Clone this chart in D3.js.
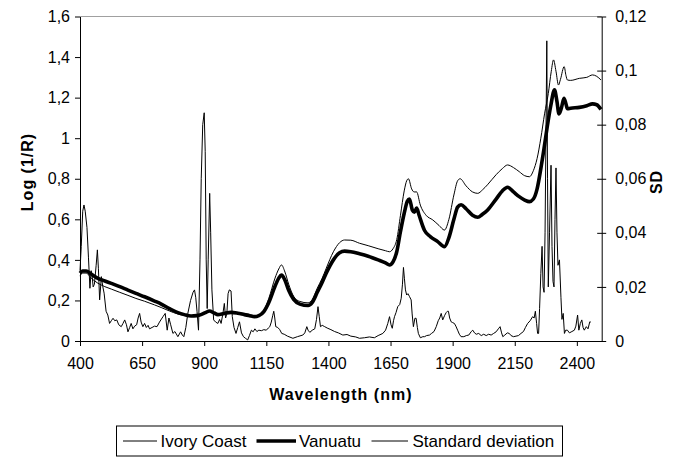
<!DOCTYPE html>
<html><head><meta charset="utf-8">
<script src="https://cdn.jsdelivr.net/npm/d3@7"></script>
<style>
body{margin:0;background:#fff;}
text{font-family:"Liberation Sans",Arial,sans-serif;fill:#000;}
</style></head>
<body><svg id="c" width="675" height="457"></svg>
<script>
// ---- data ----
const xTicks = [400,650,900,1150,1400,1650,1900,2150,2400];
const xTickLabels = ["400","650","900","1150","1400","1650","1900","2150","2400"];
const yTicks = [0,0.2,0.4,0.6,0.8,1,1.2,1.4,1.6];
const yTickLabels = ["0","0,2","0,4","0,6","0,8","1","1,2","1,4","1,6"];
const y2Ticks = [0,0.02,0.04,0.06,0.08,0.1,0.12];
const y2TickLabels = ["0","0,02","0,04","0,06","0,08","0,1","0,12"];
const seriesNames = ["Ivory Coast","Vanuatu","Standard deviation"];

const vanuatuWl = [400,410,425,445,472,500,526,560,593,625,660,700,727,760,794,820,847,870,887,905,921,940,955,980,1008,1035,1062,1083,1102,1120,1140,1160,1185,1200,1211,1225,1240,1260,1285,1318,1335,1355,1375,1391,1420,1445,1465,1490,1525,1560,1600,1630,1646,1660,1675,1690,1705,1718,1726,1738,1746,1755,1765,1787,1810,1840,1867,1885,1905,1920,1934,1954,1980,2001,2020,2040,2075,2100,2121,2145,2168,2190,2209,2225,2240,2255,2268,2280,2295,2310,2320,2328,2338,2348,2356,2362,2375,2410,2440,2463,2480,2497];
const vanuatuVal = [0.335,0.345,0.345,0.33,0.309,0.296,0.284,0.268,0.251,0.235,0.218,0.197,0.182,0.16,0.14,0.13,0.123,0.125,0.13,0.14,0.148,0.138,0.13,0.136,0.141,0.137,0.13,0.125,0.12,0.125,0.145,0.19,0.27,0.31,0.325,0.3,0.25,0.205,0.182,0.175,0.19,0.24,0.29,0.334,0.4,0.435,0.443,0.44,0.43,0.418,0.4,0.385,0.375,0.39,0.44,0.54,0.63,0.69,0.7,0.645,0.635,0.655,0.62,0.545,0.515,0.49,0.465,0.51,0.6,0.66,0.672,0.652,0.62,0.61,0.625,0.645,0.7,0.74,0.758,0.735,0.712,0.695,0.687,0.7,0.75,0.85,0.95,1.05,1.16,1.238,1.18,1.12,1.15,1.197,1.17,1.145,1.148,1.152,1.16,1.169,1.165,1.142];

const ivoryWl = [400,410,425,445,472,500,526,560,593,625,660,700,727,760,794,820,847,870,887,905,921,940,955,980,1008,1035,1062,1083,1102,1120,1140,1160,1185,1200,1211,1225,1240,1260,1285,1318,1335,1355,1375,1391,1420,1445,1465,1490,1525,1560,1600,1630,1646,1660,1675,1690,1705,1715,1722,1735,1745,1755,1770,1793,1820,1845,1867,1885,1905,1920,1930,1954,1980,2001,2020,2040,2075,2100,2121,2145,2168,2190,2209,2225,2240,2255,2270,2285,2297,2306,2316,2326,2334,2349,2356,2362,2375,2410,2440,2463,2480,2497];
const ivoryVal = [0.32,0.335,0.335,0.31,0.285,0.268,0.256,0.24,0.225,0.21,0.196,0.178,0.165,0.148,0.133,0.126,0.122,0.123,0.128,0.14,0.15,0.138,0.13,0.136,0.142,0.14,0.135,0.13,0.122,0.128,0.15,0.21,0.31,0.355,0.375,0.34,0.28,0.22,0.195,0.188,0.205,0.26,0.31,0.358,0.44,0.485,0.498,0.497,0.482,0.47,0.455,0.445,0.44,0.455,0.5,0.62,0.74,0.79,0.8,0.75,0.735,0.735,0.67,0.62,0.597,0.57,0.547,0.6,0.72,0.79,0.8,0.765,0.735,0.728,0.745,0.77,0.82,0.85,0.868,0.855,0.835,0.815,0.81,0.84,0.9,1.0,1.12,1.22,1.33,1.386,1.33,1.262,1.29,1.353,1.31,1.287,1.285,1.295,1.3,1.312,1.305,1.287];

const sdWl = [400,405,411,416,421,428,434,440,445,449,453,458,465,470,474,479,486,492,497,505,512,519,526,533,540,548,556,566,573,580,587,593,600,606,613,620,628,634,640,646,653,660,667,674,680,690,700,710,720,734,743,751,758,765,774,782,794,805,812,818,826,834,845,855,861,866,871,877,883,888,894,900,904,908,912,916,922,926,931,938,946,955,962,968,975,981,986,991,996,1001,1008,1013,1020,1028,1035,1042,1050,1058,1066,1075,1082,1090,1097,1104,1112,1120,1130,1140,1150,1158,1164,1170,1176,1180,1184,1188,1196,1204,1212,1222,1235,1257,1275,1297,1305,1313,1318,1325,1335,1345,1352,1358,1363,1368,1375,1385,1395,1410,1425,1440,1458,1475,1490,1510,1525,1545,1565,1585,1600,1619,1630,1639,1646,1652,1657,1662,1666,1672,1679,1687,1693,1698,1702,1706,1710,1715,1720,1726,1733,1737,1742,1748,1753,1758,1762,1770,1780,1787,1795,1807,1815,1825,1834,1842,1848,1854,1860,1868,1874,1879,1883,1888,1894,1900,1907,1913,1920,1927,1934,1945,1955,1965,1975,1981,1988,1995,2005,2015,2025,2035,2045,2055,2065,2075,2084,2091,2097,2102,2110,2120,2128,2135,2145,2155,2165,2175,2185,2193,2202,2212,2222,2228,2233,2238,2242,2246,2250,2255,2260,2264,2268,2272,2276,2279,2282,2285,2290,2296,2300,2304,2308,2312,2316,2320,2324,2330,2336,2340,2345,2350,2355,2362,2370,2380,2390,2396,2403,2408,2414,2420,2425,2430,2438,2445,2452,2456];
const sdVal = [0.026,0.035,0.048,0.0503,0.048,0.042,0.031,0.0195,0.026,0.0238,0.02,0.021,0.028,0.0337,0.0269,0.0152,0.0238,0.02,0.0177,0.011,0.0096,0.0065,0.0075,0.0084,0.0075,0.0078,0.006,0.0053,0.0065,0.0078,0.006,0.0034,0.005,0.0065,0.0045,0.0055,0.006,0.0085,0.0102,0.007,0.0053,0.0065,0.005,0.0058,0.0045,0.005,0.0055,0.0053,0.007,0.009,0.0102,0.004,0.0085,0.006,0.0028,0.0035,0.0016,0.0034,0.0022,0.0016,0.005,0.0102,0.015,0.018,0.0189,0.016,0.011,0.004,0.03,0.06,0.08,0.0844,0.07,0.03,0.012,0.03,0.0546,0.04,0.0189,0.0078,0.007,0.0065,0.008,0.0065,0.01,0.0139,0.0085,0.01,0.0175,0.0189,0.0185,0.009,0.005,0.0028,0.005,0.0071,0.003,0.0016,0.001,0.0004,0.002,0.004,0.0034,0.0045,0.0035,0.004,0.0038,0.0042,0.004,0.0048,0.0053,0.007,0.0095,0.011,0.0085,0.0053,0.005,0.0042,0.0028,0.0025,0.0018,0.001,0.0016,0.0022,0.003,0.0053,0.004,0.0032,0.004,0.0045,0.008,0.0127,0.009,0.0053,0.0058,0.0053,0.0048,0.0042,0.0035,0.003,0.0022,0.0024,0.0018,0.0015,0.001,0.0012,0.0015,0.0012,0.002,0.0028,0.004,0.0065,0.009,0.006,0.0047,0.0075,0.009,0.0105,0.0127,0.0135,0.0158,0.021,0.0272,0.023,0.0189,0.017,0.0175,0.0165,0.0152,0.01,0.0053,0.0084,0.0084,0.005,0.0028,0.0012,0.0016,0.0016,0.002,0.0022,0.0028,0.0035,0.0053,0.0075,0.0085,0.0102,0.0078,0.0095,0.0105,0.011,0.011,0.0085,0.0071,0.0068,0.0065,0.0055,0.004,0.0025,0.0016,0.0016,0.002,0.0022,0.0035,0.004,0.003,0.0025,0.0028,0.002,0.0025,0.002,0.0025,0.0022,0.0028,0.0034,0.0045,0.0053,0.003,0.0016,0.0022,0.003,0.0028,0.002,0.0016,0.0018,0.002,0.0028,0.0035,0.005,0.0065,0.0075,0.009,0.0085,0.011,0.0065,0.0028,0.0028,0.012,0.025,0.035,0.02,0.018,0.04,0.08,0.111,0.06,0.02,0.04,0.065,0.035,0.022,0.02,0.045,0.064,0.04,0.028,0.03,0.016,0.008,0.0102,0.0028,0.004,0.004,0.003,0.0035,0.004,0.0055,0.0096,0.004,0.0065,0.0078,0.005,0.004,0.0053,0.0045,0.0071,0.007];

// ---- layout ----
const svg = d3.select("#c");
const L = 80, R = 601.7, T = 16.5, B = 341;
const x = d3.scaleLinear().domain([400,2500]).range([L,R]);
const y = d3.scaleLinear().domain([0,1.6]).range([B,T]);
const y2 = d3.scaleLinear().domain([0,0.12]).range([B,T]);

// top border (gray)
svg.append("line").attr("x1",L).attr("x2",R).attr("y1",T).attr("y2",T)
  .attr("stroke","#a0a0a0").attr("stroke-width",1);

// lines
const lineL = d3.line().x(d=>x(d[0])).y(d=>y(d[1])).curve(d3.curveMonotoneX);
const lineR = d3.line().x(d=>x(d[0])).y(d=>y2(d[1]));
const zip = (a,b)=>a.map((v,i)=>[v,b[i]]);
svg.append("path").datum(zip(sdWl,sdVal)).attr("d",lineR).attr("fill","none").attr("stroke","#000").attr("stroke-width",1).attr("stroke-linejoin","round");
svg.append("path").datum(zip(ivoryWl,ivoryVal)).attr("d",lineL).attr("fill","none").attr("stroke","#000").attr("stroke-width",1);
svg.append("path").datum(zip(vanuatuWl,vanuatuVal)).attr("d",lineL).attr("fill","none").attr("stroke","#000").attr("stroke-width",3.6).attr("stroke-linejoin","round");

// axes
const fs = "16px";
const gx = svg.append("g").attr("transform",`translate(0,${B})`)
  .call(d3.axisBottom(x).tickValues(xTicks).tickFormat((d,i)=>xTickLabels[i]).tickSize(5).tickPadding(12).tickSizeOuter(0));
const gy = svg.append("g").attr("transform",`translate(${L},0)`)
  .call(d3.axisLeft(y).tickValues(yTicks).tickFormat((d,i)=>yTickLabels[i]).tickSize(5).tickPadding(5).tickSizeOuter(0));
const gy2 = svg.append("g").attr("transform",`translate(${R},0)`)
  .call(d3.axisRight(y2).tickValues(y2Ticks).tickFormat((d,i)=>y2TickLabels[i]).tickSize(4.5).tickPadding(9).tickSizeOuter(0));
gy2.selectAll(".tick line").attr("x1",-4.5);
[gx,gy,gy2].forEach(g=>{
  g.selectAll("text").attr("font-size",fs).attr("font-family",null).style("font-family",'"Liberation Sans",Arial,sans-serif');
  g.select(".domain").attr("stroke","#000");
  g.selectAll(".tick line").attr("stroke","#000");
});

// axis titles
svg.append("text").attr("x",(L+R)/2).attr("y",400).attr("text-anchor","middle")
  .attr("font-size","16px").attr("font-weight","bold").attr("letter-spacing","1px").text("Wavelength (nm)");
svg.append("text").attr("transform","translate(33,172) rotate(-90)").attr("text-anchor","middle")
  .attr("font-size","16px").attr("font-weight","bold").attr("letter-spacing","1px").text("Log (1/R)");
svg.append("text").attr("transform","translate(662,182) rotate(-90)").attr("text-anchor","middle")
  .attr("font-size","16px").attr("font-weight","bold").attr("letter-spacing","1px").text("SD");

// legend
const lg = svg.append("g");
lg.append("rect").attr("x",116.5).attr("y",426).attr("width",446).attr("height",30)
  .attr("fill","#fff").attr("stroke","#000").attr("stroke-width",1);
const items = [
  {x1:123,x2:157,tx:160.5,w:1},
  {x1:256.5,x2:296,tx:299,w:3.6},
  {x1:371.5,x2:408,tx:412.5,w:1}
];
items.forEach((it,i)=>{
  lg.append("line").attr("x1",it.x1).attr("x2",it.x2).attr("y1",441).attr("y2",441)
    .attr("stroke","#000").attr("stroke-width",it.w);
  lg.append("text").attr("x",it.tx).attr("y",446.5).attr("font-size","17px").text(seriesNames[i]);
});
</script></body></html>
